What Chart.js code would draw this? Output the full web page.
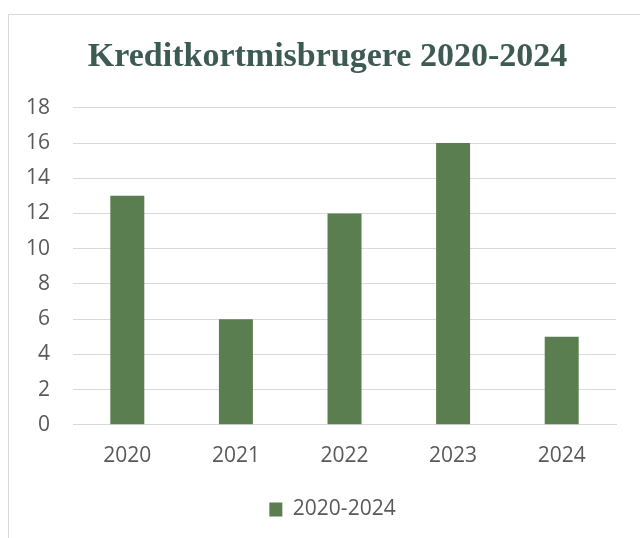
<!DOCTYPE html>
<html>
<head>
<meta charset="utf-8">
<script src="https://cdn.jsdelivr.net/npm/chart.js@4"></script>
<style>
  html, body { margin: 0; padding: 0; background: #fff; }
  #wrap { position: relative; width: 640px; height: 538px; overflow: hidden; }
  #frame { position: absolute; left: 8px; top: 14px; width: 700px; height: 600px; border: 1px solid #d9d9d9; }
  canvas { position: absolute; left: 0; top: 0; }
</style>
</head>
<body>
<div id="wrap">
  <div id="frame"></div>
  <canvas id="chart" width="640" height="538"></canvas>
</div>
<script>
// Chart data
var years = ['2020', '2021', '2022', '2023', '2024'];
var misuseCounts = [13, 6, 12, 16, 5];
var seriesLabel = '2020-2024';
var chartTitle = 'Kreditkortmisbrugere 2020-2024';

var barColor = '#5b7e50';
var tickColor = '#595959';
var gridColor = '#d9d9d9';

// title and legend sit a bit right of the plot centre in the original
var shiftBlocks = {
    id: 'shiftBlocks',
    afterLayout: function(chart) {
        chart.titleBlock.left += 18;
        chart.titleBlock.right += 18;
        chart.legend.left += 23;
        chart.legend.right += 23;
    }
};

var ctx = document.getElementById('chart').getContext('2d');

var chart = new Chart(ctx, {
    type: 'bar',
    data: {
        labels: years,
        datasets: [{
            label: seriesLabel,
            data: misuseCounts,
            backgroundColor: barColor,
            categoryPercentage: 1,
            barPercentage: 0.313
        }]
    },
    options: {
        responsive: false,
        animation: false,
        layout: {
            padding: { left: 3, right: 24, top: 0, bottom: 8 }
        },
        scales: {
            x: {
                grid: { display: false },
                border: { color: gridColor },
                ticks: {
                    color: tickColor,
                    padding: 11,
                    font: { family: 'Open Sans', size: 21 }
                }
            },
            y: {
                min: 0,
                max: 18,
                ticks: {
                    stepSize: 2,
                    color: tickColor,
                    padding: 23,
                    font: { family: 'Open Sans', size: 21 }
                },
                grid: { color: gridColor, drawTicks: false },
                border: { display: false }
            }
        },
        plugins: {
            title: {
                display: true,
                text: chartTitle,
                color: '#3d5a53',
                font: { family: 'Liberation Serif', size: 34, weight: 'bold' },
                padding: { top: 37, bottom: 30 }
            },
            legend: {
                position: 'bottom',
                labels: {
                    color: tickColor,
                    boxWidth: 13,
                    boxHeight: 14,
                    padding: 19,
                    font: { family: 'Open Sans', size: 21 }
                }
            },
            tooltip: { enabled: false }
        }
    },
    plugins: [shiftBlocks]
});
</script>
</body>
</html>
